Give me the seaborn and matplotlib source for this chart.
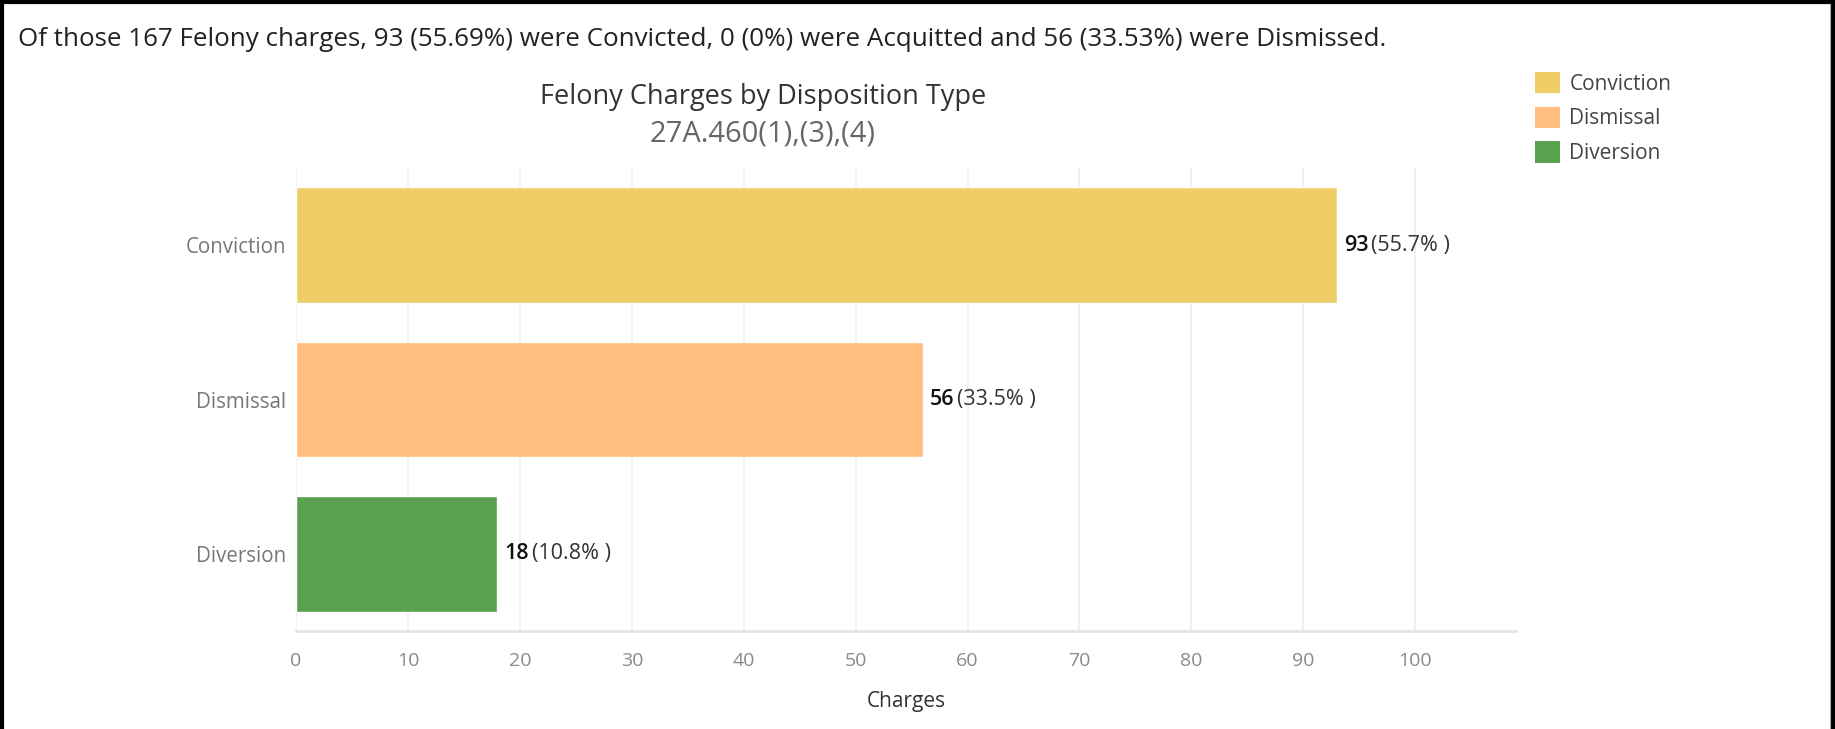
import matplotlib
matplotlib.use("Agg")
import matplotlib.pyplot as plt
import seaborn as sns
import pandas as pd
from matplotlib.patches import Patch
from matplotlib.lines import Line2D

# Disposition data
categories = ["Conviction", "Dismissal", "Diversion"]
charges = [93, 56, 18]
colors = ["#EFCD67", "#FFBE7D", "#59A14F"]
acquitted = 0
x_ticks = [0, 10, 20, 30, 40, 50, 60, 70, 80, 90, 100]

total = sum(charges)
shares = [c / total * 100 for c in charges]

df = pd.DataFrame({"Disposition": categories, "Charges": charges})

sns.set_theme(style="white")
plt.rcParams["font.family"] = ["Open Sans", "DejaVu Sans"]

W, H = 1835, 729
fig = plt.figure(figsize=(W / 100, H / 100), dpi=100)
ax = fig.add_axes([296 / W, (H - 631) / H, 1220 / W, (631 - 168) / H])

sns.barplot(data=df, y="Disposition", x="Charges", hue="Disposition",
            palette=colors, orient="h", width=0.75, saturation=1,
            legend=False, ax=ax, zorder=3)

ax.set_xlim(0, 109)
ax.set_xticks(x_ticks)
ax.set_xticklabels([str(t) for t in x_ticks], color="#8a8a8a", fontsize=14)
ax.tick_params(axis="x", length=0, pad=15)
ax.tick_params(axis="y", length=0, pad=7, labelsize=14.8, labelcolor="#777777")
ax.set_ylabel("")
ax.set_xlabel("Charges", fontsize=15, color="#333333", labelpad=15)
ax.grid(axis="x", color="#efefef", linewidth=1.2, zorder=0)
for side in ["top", "right", "left"]:
    ax.spines[side].set_visible(False)
ax.spines["bottom"].set_color("#e4e4e4")
ax.spines["bottom"].set_linewidth(2)

# Value labels: bold count followed by share
for i, (c, s) in enumerate(zip(charges, shares)):
    t1 = ax.annotate(f"{c}", xy=(c, i), xytext=(5, 0), textcoords="offset points",
                     va="center", ha="left", fontsize=15.5, color="#111111",
                     fontweight="semibold", zorder=4)
    ax.annotate(f"({s:.1f}% )", xy=(1, 0.5), xycoords=t1, xytext=(2, 0),
                textcoords="offset points", va="center", ha="left",
                fontsize=15.5, color="#333333", zorder=4)

# Titles
conv_pct = charges[0] / total * 100
dism_pct = charges[1] / total * 100
fig.text(18 / W, 1 - 39 / H,
         f"Of those {total} Felony charges, {charges[0]} ({conv_pct:.2f}%) were Convicted, "
         f"{acquitted} ({acquitted}%) were Acquitted and {charges[1]} ({dism_pct:.2f}%) were Dismissed.",
         fontsize=18.7, color="#222222", va="center", ha="left")
fig.text(763 / W, 1 - 97 / H, "Felony Charges by Disposition Type",
         fontsize=19.5, color="#333333", va="center", ha="center")
fig.text(763 / W, 1 - 134 / H, "27A.460(1),(3),(4)",
         fontsize=21, color="#666666", va="center", ha="center")

# Legend
handles = [Patch(facecolor=col, edgecolor="none", label=cat)
           for cat, col in zip(categories, colors)]
fig.legend(handles=handles, loc="upper left", bbox_to_anchor=(1535 / W, 1 - 72 / H),
           frameon=False, fontsize=15, handlelength=1.2, handleheight=1.2,
           handletextpad=0.45, labelspacing=0.57, labelcolor="#444444", borderaxespad=0,
           borderpad=0)

# Frame
fig.add_artist(Line2D([2 / W, 2 / W], [0, 1], transform=fig.transFigure, color="black", lw=3))
fig.add_artist(Line2D([0, 1833 / W], [1 - 2 / H, 1 - 2 / H], transform=fig.transFigure, color="black", lw=3))
fig.add_artist(Line2D([1832.5 / W, 1832.5 / W], [0, 1], transform=fig.transFigure, color="black", lw=3))
fig.add_artist(Line2D([1830 / W, 1830 / W], [0, 1 - 4 / H], transform=fig.transFigure, color="#aaaaaa", lw=0.8))

fig.savefig("out.png", dpi=100, facecolor="white")
